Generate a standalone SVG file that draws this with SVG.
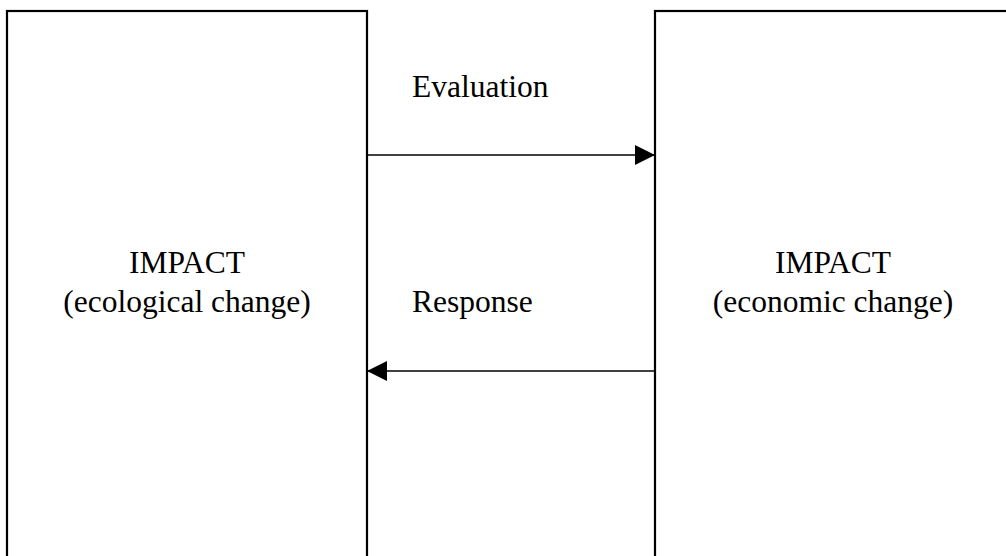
<svg xmlns="http://www.w3.org/2000/svg" width="1006" height="556" viewBox="0 0 1006 556">
<style>
.box{fill:none;stroke:#000;stroke-width:2.2}
.t{font-family:"Liberation Serif","Times New Roman",serif;font-size:31.5px;fill:#000}
.c{text-anchor:middle}
.conn{stroke:#000;stroke-width:1.6;fill:none}
</style>
<defs>
<marker id="ah" markerWidth="20" markerHeight="20" refX="20" refY="10" orient="auto" markerUnits="userSpaceOnUse">
<path d="M0,0 L20,10 L0,20 Z" fill="#000"/>
</marker>
</defs>
<rect width="1006" height="556" fill="#fff"/>
<g id="node-ecological">
<rect class="box" x="7" y="11" width="360" height="570"/>
<text class="t c" x="187" y="273">IMPACT</text>
<text class="t c" x="187" y="312">(ecological change)</text>
</g>
<g id="node-economic">
<rect class="box" x="655" y="11" width="357" height="570"/>
<text class="t c" x="833" y="273">IMPACT</text>
<text class="t c" x="833" y="312">(economic change)</text>
</g>
<g id="connectors">
<line class="conn" x1="368" y1="155" x2="655" y2="155" marker-end="url(#ah)"/>
<line class="conn" x1="654" y1="371" x2="367" y2="371" marker-end="url(#ah)"/>
<text class="t" x="412" y="97">Evaluation</text>
<text class="t" x="412" y="312">Response</text>
</g>
</svg>
